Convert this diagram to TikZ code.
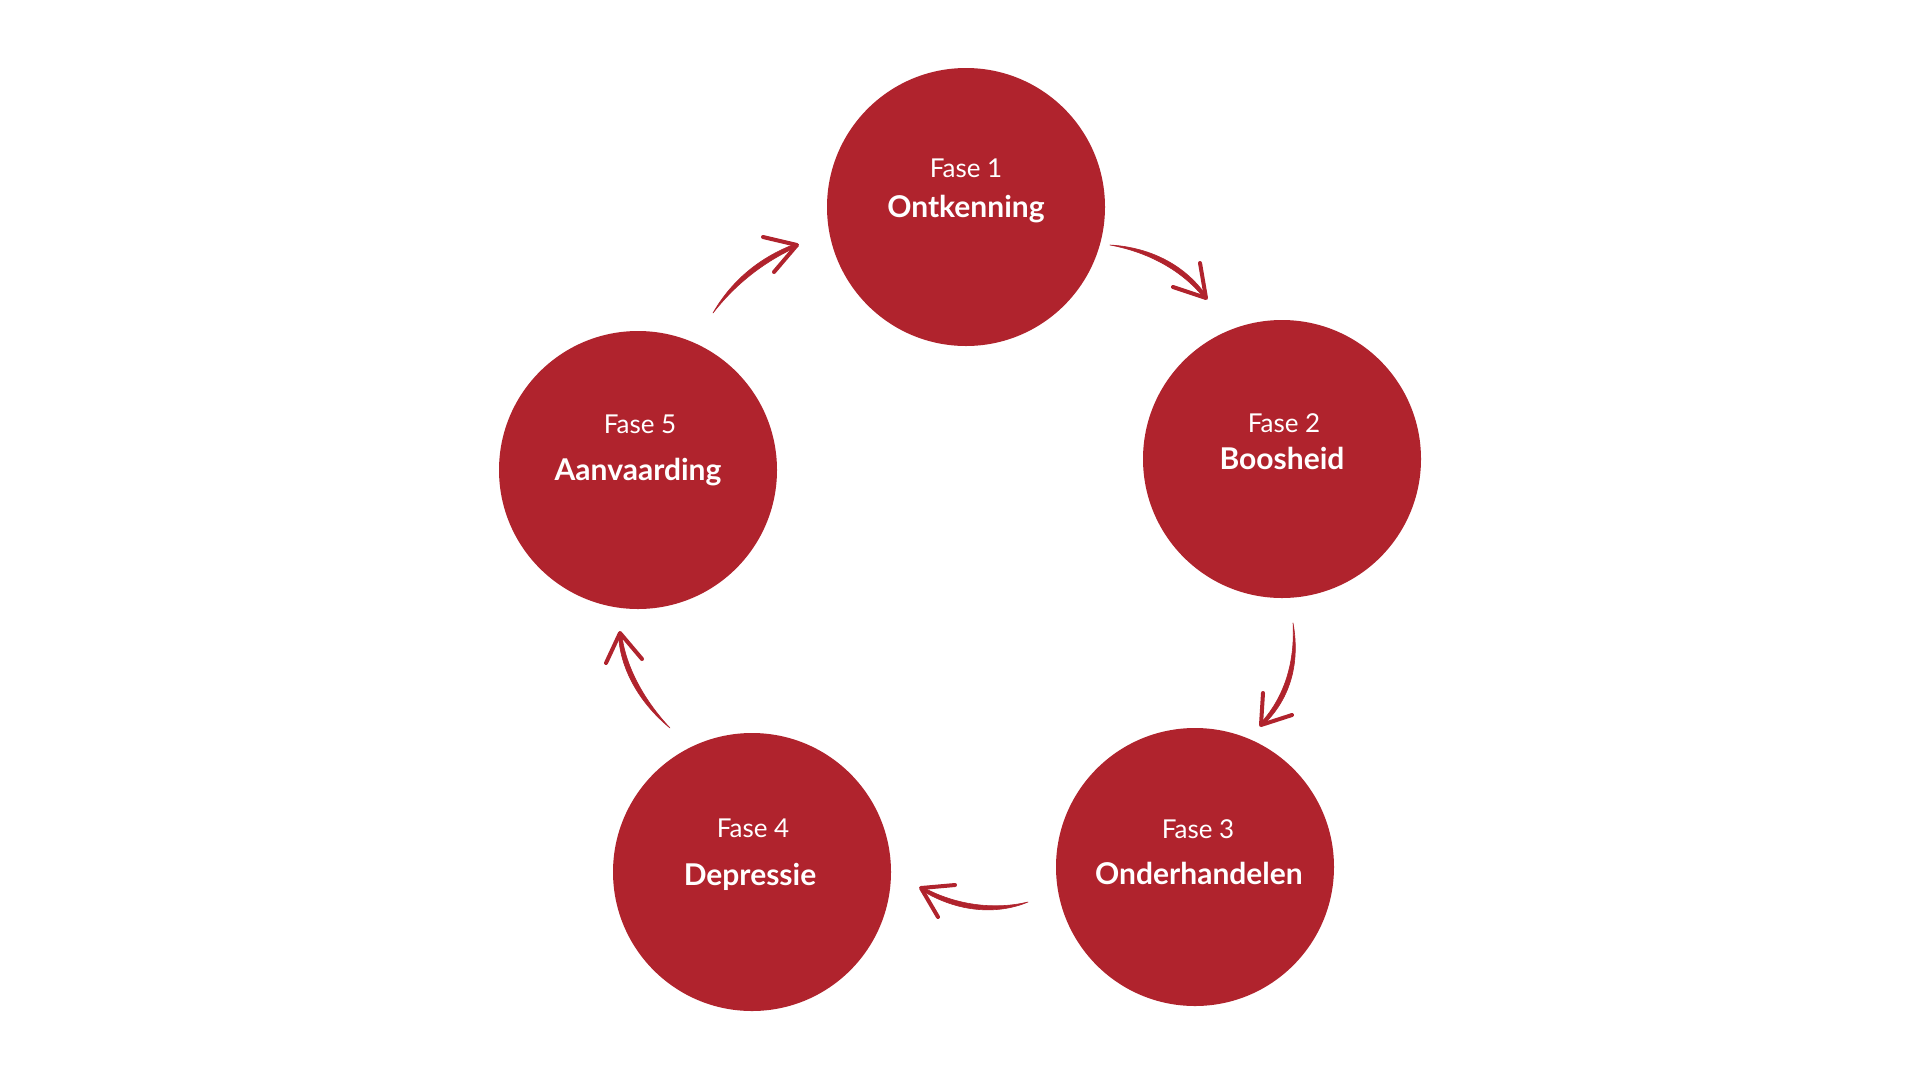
\documentclass[tikz,border=0pt]{standalone}
\usepackage{fontspec}
\setmainfont{Lato}
\usetikzlibrary{calc}
\definecolor{phasered}{RGB}{176,35,45}
\tikzset{
  phase/.style={circle,fill=phasered,draw=none,minimum size=278pt,inner sep=0pt},
  faselbl/.style={anchor=base,text=white,inner sep=0pt,font=\fontsize{26}{30}\selectfont},
  namelbl/.style={anchor=base,text=white,inner sep=0pt,font=\fontsize{30}{34}\selectfont\bfseries},
  brush/.style={fill=phasered,draw=phasered,line width=0.6pt,line join=round},
  arm/.style={draw=phasered,line width=4pt,line cap=round,line join=round}
}
\newcommand\brusharrow[8]{%
  \fill[brush] #1 .. controls ($#2+(#5,#6)$) and ($#3+(#5,#6)$) .. ($#4+0.6*(#5,#6)$)
     -- ($#4-0.6*(#5,#6)$) .. controls ($#3-(#5,#6)$) and ($#2-(#5,#6)$) .. #1 -- cycle;
  \draw[arm] #7 -- #4 -- #8;}
\begin{document}
\begin{tikzpicture}[x=1pt,y=-1pt]
\fill[white] (0,0) rectangle (1920,1080);
\useasboundingbox (0,0) rectangle (1920,1080);
% circles
\node[phase] (c1) at (966,207) {};
\node[phase] (c2) at (1282,459) {};
\node[phase] (c3) at (1195,867) {};
\node[phase] (c4) at (752,872) {};
\node[phase] (c5) at (638,470) {};
% labels
\node[faselbl] (f1) at (966,177) {Fase 1};
\node[namelbl] (n1) at (966,217) {Ontkenning};
\node[faselbl] (f2) at (1284,432) {Fase 2};
\node[namelbl] (n2) at (1282,469) {Boosheid};
\node[faselbl] (f3) at (1198,838) {Fase 3};
\node[namelbl] (n3) at (1199,884) {Onderhandelen};
\node[faselbl] (f4) at (753,837) {Fase 4};
\node[namelbl] (n4) at (750,885) {Depressie};
\node[faselbl] (f5) at (640,433) {Fase 5};
\node[namelbl] (n5) at (638,480) {Aanvaarding};
% arrow 1 -> 2
\coordinate (s12) at (1110,245); \coordinate (p12) at (1152,250); \coordinate (q12) at (1186,270); \coordinate (e12) at (1206,298);
\coordinate (a12) at (1200,263); \coordinate (b12) at (1173,287);
\brusharrow{(s12)}{(p12)}{(q12)}{(e12)}{-1.3}{2.5}{(a12)}{(b12)}
% arrow 2 -> 3
\coordinate (s23) at (1293,623); \coordinate (p23) at (1298,665); \coordinate (q23) at (1286,700); \coordinate (e23) at (1261,725);
\coordinate (a23) at (1263,693); \coordinate (b23) at (1292,715);
\brusharrow{(s23)}{(p23)}{(q23)}{(e23)}{2.7}{0.8}{(a23)}{(b23)}
% arrow 3 -> 4
\coordinate (s34) at (1028,902); \coordinate (p34) at (998,912); \coordinate (q34) at (958,910); \coordinate (e34) at (921,888);
\coordinate (a34) at (955,885); \coordinate (b34) at (938,917);
\brusharrow{(s34)}{(p34)}{(q34)}{(e34)}{-0.4}{2.8}{(a34)}{(b34)}
% arrow 4 -> 5
\coordinate (s45) at (670,728); \coordinate (p45) at (640,700); \coordinate (q45) at (622,665); \coordinate (e45) at (620,633);
\coordinate (a45) at (606,663); \coordinate (b45) at (642,659);
\brusharrow{(s45)}{(p45)}{(q45)}{(e45)}{2.5}{-1.3}{(a45)}{(b45)}
% arrow 5 -> 1
\coordinate (s51) at (713,313); \coordinate (p51) at (735,280); \coordinate (q51) at (765,258); \coordinate (e51) at (797,245);
\coordinate (a51) at (763,237); \coordinate (b51) at (774,272);
\brusharrow{(s51)}{(p51)}{(q51)}{(e51)}{1.8}{2.2}{(a51)}{(b51)}
\end{tikzpicture}
\end{document}
